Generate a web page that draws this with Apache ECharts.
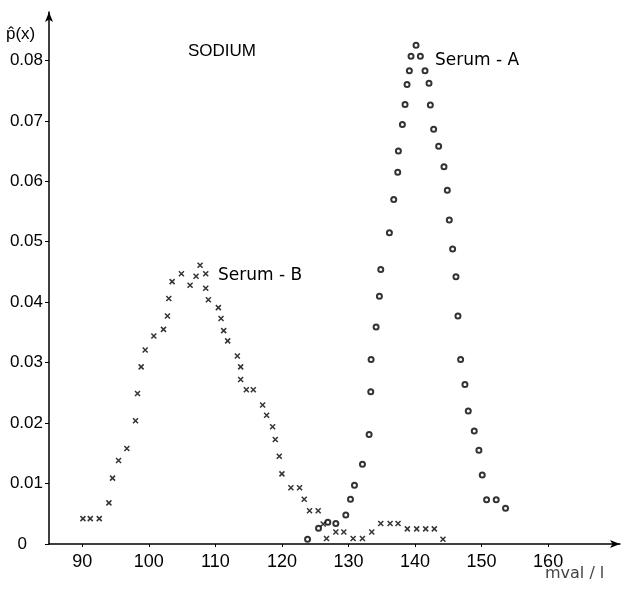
<!DOCTYPE html>
<html>
<head>
<meta charset="utf-8">
<script src="https://cdn.jsdelivr.net/npm/echarts@6/dist/echarts.min.js"></script>
<style>
  html, body { margin: 0; padding: 0; background: #fff; }
  #chart { width: 623px; height: 592px; }
</style>
</head>
<body>
<div id="chart"></div>
<script>
// tick positions
var xTicks = [90, 100, 110, 120, 130, 140, 150, 160]
var yTicks = [0, 0.01, 0.02, 0.03, 0.04, 0.05, 0.06, 0.07, 0.08]

// Serum-A (circles), [mval/l, p(x)]
var serumA = [
  [123.85, 0.0008], [125.5, 0.0026], [126.9, 0.0036], [128.1, 0.0034],
  [129.6, 0.0048], [130.3, 0.0074], [130.9, 0.0097], [132.1, 0.0132],
  [133.1, 0.0181], [133.35, 0.0252], [133.4, 0.0305], [134.15, 0.0359],
  [134.65, 0.0410], [134.85, 0.0454], [136.15, 0.0515], [136.8, 0.0570],
  [137.4, 0.0615], [137.5, 0.0650], [138.1, 0.0694], [138.5, 0.0727],
  [138.8, 0.0760], [139.15, 0.0783], [139.4, 0.0807], [140.15, 0.0825],
  [140.8, 0.0807], [141.5, 0.0783], [142.1, 0.0762], [142.3, 0.0726],
  [142.8, 0.0686], [143.55, 0.0658], [144.35, 0.0624], [144.85, 0.0585],
  [145.15, 0.0536], [145.65, 0.0488], [146.15, 0.0442], [146.45, 0.0377],
  [146.85, 0.0305], [147.5, 0.0264], [148.0, 0.0220], [148.9, 0.0187],
  [149.6, 0.0155], [150.1, 0.0114], [150.75, 0.0073], [152.2, 0.0073],
  [153.6, 0.0059]
]

// Serum-B (crosses)
var serumB = [
  [90.1, 0.0042], [91.2, 0.0042], [92.55, 0.0042], [94.0, 0.0068],
  [94.55, 0.0109], [95.45, 0.0138], [96.7, 0.0158], [98.0, 0.0204],
  [98.3, 0.0249], [98.85, 0.0293], [99.45, 0.0321], [100.75, 0.0344],
  [102.2, 0.0355], [102.8, 0.0377], [103.0, 0.0406], [103.5, 0.0434],
  [104.9, 0.0447], [106.2, 0.0428], [107.1, 0.0443], [107.7, 0.0461],
  [108.55, 0.0447], [108.55, 0.0423], [108.95, 0.0404], [110.45, 0.0391],
  [110.85, 0.0373], [111.25, 0.0353], [111.85, 0.0336], [113.3, 0.0311],
  [113.8, 0.0293], [113.8, 0.0272], [114.65, 0.0255], [115.7, 0.0255],
  [117.1, 0.0230], [117.7, 0.0213], [118.6, 0.0194], [119.0, 0.0173],
  [119.6, 0.0145], [120.0, 0.0116], [121.35, 0.0093], [122.65, 0.0093],
  [123.35, 0.0074], [124.15, 0.0055], [125.45, 0.0055], [126.2, 0.0033],
  [126.7, 0.0009], [128.1, 0.0020], [129.3, 0.0020], [130.7, 0.0009],
  [132.1, 0.0009], [133.5, 0.0020], [134.85, 0.0034], [136.25, 0.0034],
  [137.45, 0.0034], [138.85, 0.0025], [140.25, 0.0025], [141.6, 0.0025],
  [142.9, 0.0025], [144.2, 0.0008]
]

var font = 'Liberation Sans'
var narrow = "'Liberation Sans Narrow', 'Liberation Sans'"
var textFont = 'DejaVu Sans'
var chart = echarts.init(document.getElementById('chart'))

chart.setOption({
  animation: false,
  backgroundColor: '#fff',
  grid: { left: 49, right: 3, top: 12, bottom: 48 },
  xAxis: {
    type: 'value',
    min: 85,
    max: 170.8,
    splitLine: { show: false },
    axisLine: {
      onZero: false,
      symbol: ['none', 'arrow'],
      symbolSize: [6, 10],
      lineStyle: { color: '#000', width: 1.5 }
    },
    axisTick: { customValues: xTicks, length: 3, lineStyle: { color: '#000' } },
    axisLabel: {
      customValues: xTicks,
      margin: 9,
      color: '#000',
      fontFamily: narrow,
      fontSize: 18
    }
  },
  yAxis: {
    type: 'value',
    min: 0,
    max: 0.088,
    splitLine: { show: false },
    axisLine: {
      onZero: false,
      symbol: ['none', 'arrow'],
      symbolSize: [6, 10],
      lineStyle: { color: '#000', width: 1.5 }
    },
    axisTick: { customValues: yTicks, length: 4, lineStyle: { color: '#000' } },
    axisLabel: {
      customValues: yTicks,
      margin: 6,
      color: '#000',
      fontFamily: font,
      fontSize: 17,
      formatter: function (v) {
        return v === 0 ? '{z|0}' : v.toFixed(2)
      },
      rich: { z: { padding: [0, 16, 0, 0], fontFamily: font, fontSize: 17, color: '#000' } }
    }
  },
  graphic: [
    { type: 'text', left: 6, top: 26, style: { text: 'p\u0302(x)', font: '17px ' + font, fill: '#000' } },
    { type: 'text', left: 188, top: 43, style: { text: 'SODIUM', font: '17px ' + font, fill: '#000' } },
    { type: 'text', left: 435, top: 52, style: { text: 'Serum - A', font: '17px ' + textFont, fill: '#000' } },
    { type: 'text', left: 218, top: 267, style: { text: 'Serum - B', font: '17px ' + textFont, fill: '#000' } },
    { type: 'text', left: 545, top: 566, style: { text: 'mval / l', font: '16px ' + textFont, fill: '#444' } }
  ],
  series: [
    {
      name: 'Serum-A',
      type: 'scatter',
      data: serumA,
      symbol: 'emptyCircle',
      symbolSize: 5,
      itemStyle: { color: '#000', borderColor: '#000', borderWidth: 1.5 }
    },
    {
      name: 'Serum-B',
      type: 'scatter',
      data: serumB,
      symbol: 'path://M0,0L10,10M10,0L0,10',
      symbolSize: [5, 5],
      itemStyle: { color: 'none', borderColor: '#000', borderWidth: 1.5 }
    }
  ]
})
</script>
</body>
</html>
